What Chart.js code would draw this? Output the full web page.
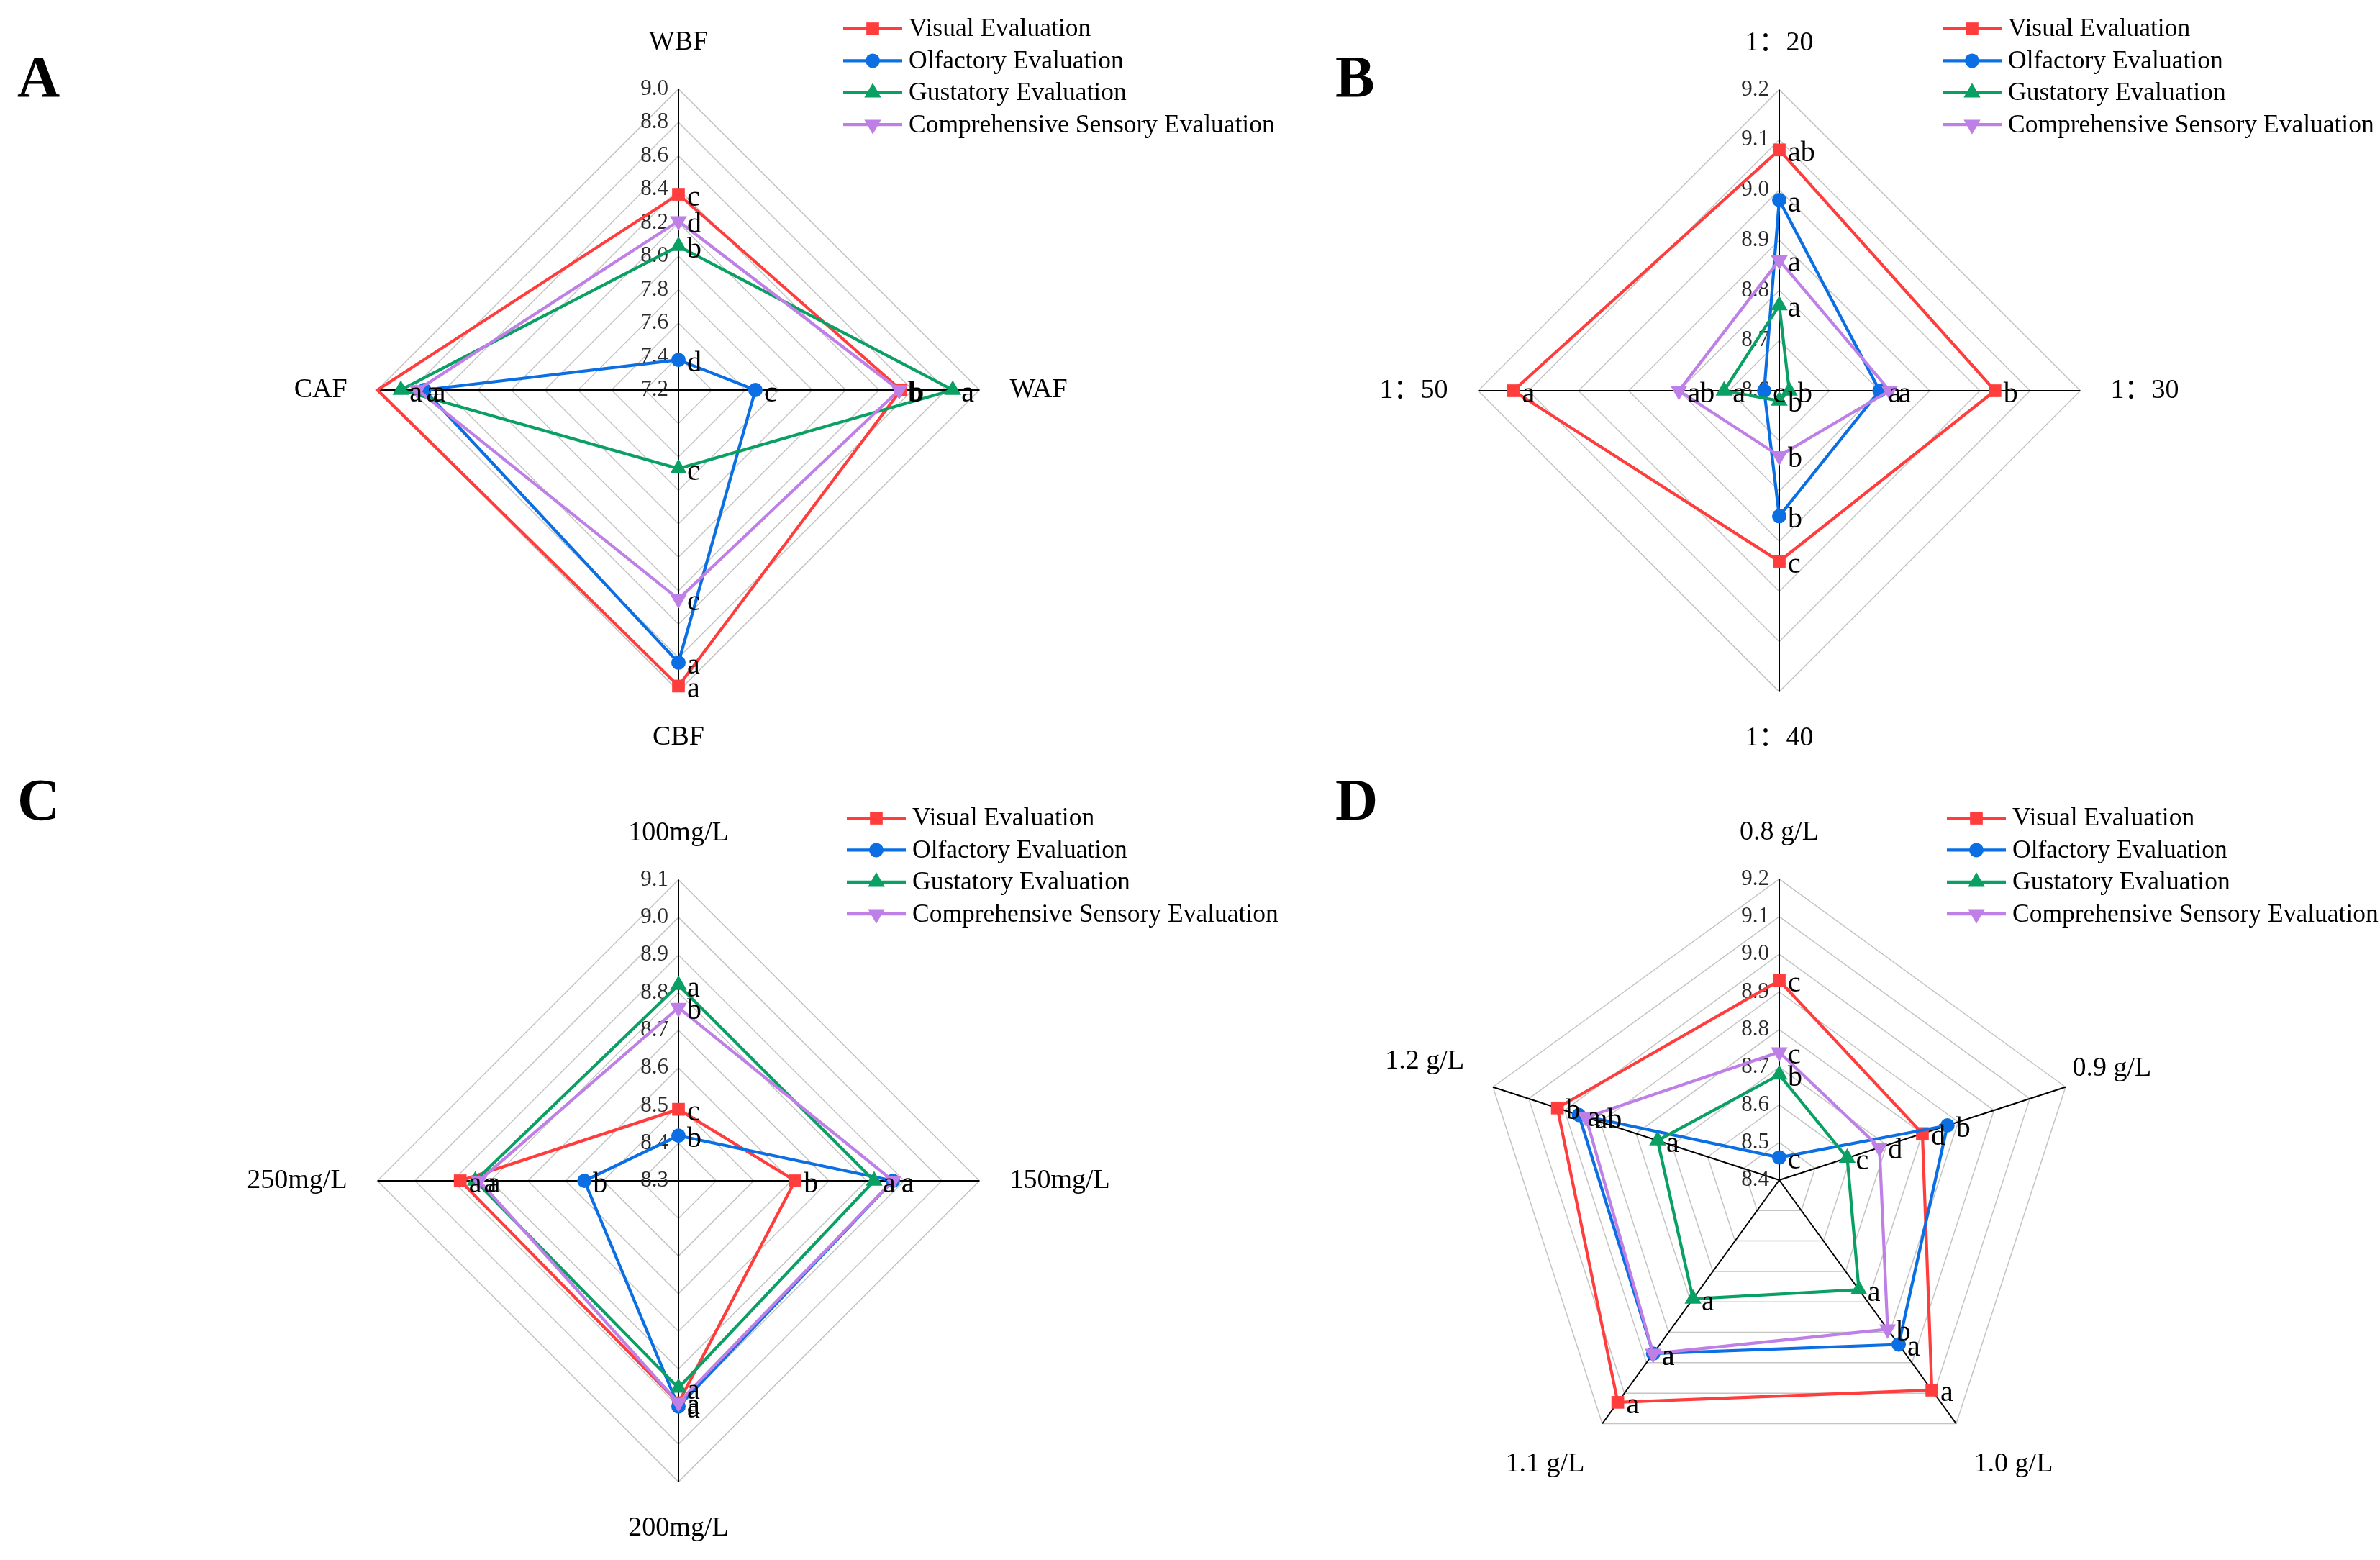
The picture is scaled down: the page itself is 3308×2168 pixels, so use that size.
<!DOCTYPE html>
<html>
<head>
<meta charset="utf-8">
<script src="https://cdn.jsdelivr.net/npm/chart.js@4.4.1/dist/chart.umd.min.js"></script>
<style>
  html, body { margin: 0; padding: 0; background: #fff; }
  #page { position: relative; width: 3308px; height: 2168px; overflow: hidden; background: #fff; }
  canvas { position: absolute; }
  .tag { position: absolute; font: bold 82px "Liberation Serif", serif; color: #000; line-height: 1; }
</style>
</head>
<body>
<div id="page">
  <canvas id="chartA" width="1800" height="1084" style="left:0;top:0"></canvas>
  <canvas id="chartC" width="1800" height="1084" style="left:0;top:1084px"></canvas>
  <canvas id="chartB" width="1654" height="1084" style="left:1654px;top:0"></canvas>
  <canvas id="chartD" width="1654" height="1084" style="left:1654px;top:1084px"></canvas>
  <div class="tag" style="left:24px;top:66px">A</div>
  <div class="tag" style="left:1856px;top:66px">B</div>
  <div class="tag" style="left:24px;top:1071px">C</div>
  <div class="tag" style="left:1856px;top:1071px">D</div>
</div>
<script>
const serif = '"Liberation Serif", "Times New Roman", "Noto Sans CJK SC", serif';

const seriesNames = ['Visual Evaluation', 'Olfactory Evaluation', 'Gustatory Evaluation', 'Comprehensive Sensory Evaluation'];
const seriesColors = ['#FF3D3D', '#0B6FE3', '#0A9F63', '#BE7FE6'];
const markerStyles = ['rect', 'circle', 'triangle', 'triangle'];
const markerRotations = [0, 0, 0, 180];
const markerSizes = [12.5, 10, 13.5, 13.5];

// A - drying methods
const axesA = ['WBF', 'WAF', 'CBF', 'CAF'];
const ticksA = [7.2, 7.4, 7.6, 7.8, 8.0, 8.2, 8.4, 8.6, 8.8, 9.0];
const visualA = [8.37, 8.53, 8.97, 9.0];
const olfactoryA = [7.38, 7.66, 8.83, 8.72];
const gustatoryA = [8.06, 8.84, 7.67, 8.86];
const comprehensiveA = [8.21, 8.52, 8.45, 8.76];
const visualLettersA = ['c', 'b', 'a', ''];
const olfactoryLettersA = ['d', 'c', 'a', 'a'];
const gustatoryLettersA = ['b', 'a', 'c', 'a'];
const comprehensiveLettersA = ['d', 'b', 'c', 'a'];

// B - ratio
const axesB = ['1：20', '1：30', '1：40', '1：50'];
const ticksB = [8.6, 8.7, 8.8, 8.9, 9.0, 9.1, 9.2];
const visualB = [9.08, 9.03, 8.94, 9.13];
const olfactoryB = [8.98, 8.80, 8.85, 8.63];
const gustatoryB = [8.77, 8.62, 8.62, 8.71];
const comprehensiveB = [8.86, 8.82, 8.73, 8.80];
const visualLettersB = ['ab', 'b', 'c', 'a'];
const olfactoryLettersB = ['a', 'a', 'b', 'c'];
const gustatoryLettersB = ['a', 'b', 'b', 'a'];
const comprehensiveLettersB = ['a', 'a', 'b', 'ab'];

// C - concentration
const axesC = ['100mg/L', '150mg/L', '200mg/L', '250mg/L'];
const ticksC = [8.3, 8.4, 8.5, 8.6, 8.7, 8.8, 8.9, 9.0, 9.1];
const visualC = [8.49, 8.61, 8.89, 8.88];
const olfactoryC = [8.42, 8.87, 8.90, 8.55];
const gustatoryC = [8.82, 8.82, 8.85, 8.84];
const comprehensiveC = [8.76, 8.87, 8.89, 8.83];
const visualLettersC = ['c', 'b', 'a', 'a'];
const olfactoryLettersC = ['b', 'a', 'a', 'b'];
const gustatoryLettersC = ['a', 'a', 'a', 'a'];
const comprehensiveLettersC = ['b', 'a', 'a', 'a'];

// D - dosage
const axesD = ['0.8 g/L', '0.9 g/L', '1.0 g/L', '1.1 g/L', '1.2 g/L'];
const ticksD = [8.4, 8.5, 8.6, 8.7, 8.8, 8.9, 9.0, 9.1, 9.2];
const visualD = [8.93, 8.80, 9.09, 9.13, 9.02];
const olfactoryD = [8.46, 8.87, 8.94, 8.97, 8.96];
const gustatoryD = [8.68, 8.59, 8.76, 8.79, 8.74];
const comprehensiveD = [8.74, 8.68, 8.89, 8.97, 8.94];
const visualLettersD = ['c', 'd', 'a', 'a', 'b'];
const olfactoryLettersD = ['c', 'b', 'a', 'a', 'a'];
const gustatoryLettersD = ['b', 'c', 'a', 'a', 'a'];
const comprehensiveLettersD = ['c', 'd', 'b', 'a', 'ab'];

function drawMarker(ctx, style, rotation, r, x, y) {
    ctx.beginPath();
    if (style === 'rect') {
        const s = r * Math.SQRT1_2;
        ctx.rect(x - s, y - s, 2 * s, 2 * s);
    } else if (style === 'circle') {
        ctx.arc(x, y, r, 0, Math.PI * 2);
    } else {
        const a0 = rotation * Math.PI / 180;
        for (let k = 0; k < 3; k++) {
            const a = a0 + k * 2 * Math.PI / 3;
            ctx.lineTo(x + Math.sin(a) * r, y - Math.cos(a) * r);
        }
        ctx.closePath();
    }
    ctx.fill();
}

function radarPanel(id, axes, ticks, series, letters, box, legendAt, labelPad) {
    const canvas = document.getElementById(id);
    const W = canvas.width, H = canvas.height;
    const top = ticks[ticks.length - 1];

    const datasets = series.map((values, i) => ({
        label: seriesNames[i],
        data: values,
        borderColor: seriesColors[i],
        backgroundColor: seriesColors[i],
        borderWidth: 4.2,
        fill: false,
        tension: 0,
        pointStyle: markerStyles[i],
        pointRotation: markerRotations[i],
        pointRadius: (c) => (c.raw >= top ? 0 : markerSizes[i]),
        pointHoverRadius: markerSizes[i],
        pointBorderWidth: 0,
        pointBackgroundColor: seriesColors[i],
        order: series.length - 1 - i
    }));

    // tick labels sit left of the vertical axis, like the original
    const tickLabels = {
        id: 'tickLabels',
        beforeDatasetsDraw(chart) {
            const r = chart.scales.r;
            const ctx = chart.ctx;
            ctx.save();
            ctx.font = '31px ' + serif;
            ctx.fillStyle = '#2a2a2a';
            ctx.textAlign = 'right';
            ctx.textBaseline = 'middle';
            ticks.forEach((v) => {
                const d = r.getDistanceFromCenterForValue(v);
                ctx.fillText(v.toFixed(1), r.xCenter - 14, r.yCenter - d);
            });
            ctx.restore();
        }
    };

    // significance letters next to each point
    const pointLetters = {
        id: 'pointLetters',
        afterDatasetsDraw(chart) {
            const ctx = chart.ctx;
            ctx.save();
            ctx.font = '40px ' + serif;
            ctx.fillStyle = '#000';
            ctx.textAlign = 'left';
            ctx.textBaseline = 'middle';
            letters.forEach((set, i) => {
                const meta = chart.getDatasetMeta(i);
                meta.data.forEach((pt, j) => {
                    if (set[j]) ctx.fillText(set[j], pt.x + 12, pt.y + 5);
                });
            });
            ctx.restore();
        }
    };

    const sideLegend = {
        id: 'sideLegend',
        afterDraw(chart) {
            const ctx = chart.ctx;
            ctx.save();
            ctx.font = '35.5px ' + serif;
            ctx.textAlign = 'left';
            ctx.textBaseline = 'middle';
            chart.data.datasets.forEach((ds, i) => {
                const y = legendAt.y + i * 44.4;
                ctx.strokeStyle = ds.borderColor;
                ctx.lineWidth = 4.2;
                ctx.beginPath();
                ctx.moveTo(legendAt.x, y);
                ctx.lineTo(legendAt.x + 82, y);
                ctx.stroke();
                ctx.fillStyle = ds.borderColor;
                drawMarker(ctx, markerStyles[i], markerRotations[i], markerSizes[i], legendAt.x + 41, y);
                ctx.fillStyle = '#000';
                ctx.fillText(ds.label, legendAt.x + 91, y + 1);
            });
            ctx.restore();
        }
    };

    return new Chart(canvas, {
        type: 'radar',
        data: { labels: axes, datasets },
        options: {
            responsive: false,
            animation: false,
            devicePixelRatio: 1,
            layout: {
                padding: {
                    left: box.cx - box.hw,
                    right: W - box.cx - box.hw,
                    top: box.my - box.hh,
                    bottom: H - box.my - box.hh
                }
            },
            plugins: { legend: { display: false }, tooltip: { enabled: false } },
            scales: {
                r: {
                    min: ticks[0],
                    max: top,
                    ticks: { display: false, stepSize: +(ticks[1] - ticks[0]).toFixed(2) },
                    grid: { color: '#c4c4c4', lineWidth: 1.5 },
                    angleLines: { color: '#000', lineWidth: 2 },
                    pointLabels: {
                        color: '#000',
                        padding: (c) => labelPad[c.index],
                        font: { family: serif, size: 38 }
                    }
                }
            }
        },
        plugins: [tickLabels, pointLetters, sideLegend]
    });
}

radarPanel('chartA', axesA, ticksA,
    [visualA, olfactoryA, gustatoryA, comprehensiveA],
    [visualLettersA, olfactoryLettersA, gustatoryLettersA, comprehensiveLettersA],
    { cx: 943, my: 542, hw: 700, hh: 506 }, { x: 1172, y: 40 }, [42, 42, 42, 42]);

radarPanel('chartB', axesB, ticksB,
    [visualB, olfactoryB, gustatoryB, comprehensiveB],
    [visualLettersB, olfactoryLettersB, gustatoryLettersB, comprehensiveLettersB],
    { cx: 819, my: 543, hw: 700, hh: 506 }, { x: 1046, y: 40 }, [42, 42, 42, 42]);

radarPanel('chartC', axesC, ticksC,
    [visualC, olfactoryC, gustatoryC, comprehensiveC],
    [visualLettersC, olfactoryLettersC, gustatoryLettersC, comprehensiveLettersC],
    { cx: 943, my: 557, hw: 700, hh: 506 }, { x: 1177, y: 53 }, [42, 42, 42, 42]);

radarPanel('chartD', axesD, ticksD,
    [visualD, olfactoryD, gustatoryD, comprehensiveD],
    [visualLettersD, olfactoryLettersD, gustatoryLettersD, comprehensiveLettersD],
    { cx: 819, my: 513, hw: 780, hh: 506 }, { x: 1052, y: 53 }, [42, 10, 42, 42, 42]);
</script>
</body>
</html>
